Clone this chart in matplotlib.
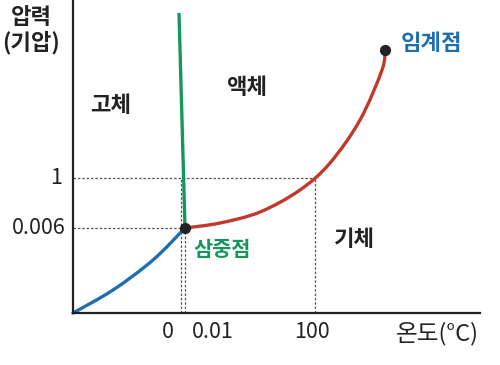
import matplotlib
matplotlib.use("Agg")
import matplotlib.pyplot as plt
from matplotlib.path import Path
from matplotlib.patches import PathPatch

plt.rcParams['font.family'] = ['Noto Sans CJK KR', 'DejaVu Sans']

# Schematic phase diagram of water (diagram units, origin at axes corner)
sub_x = [0, 40, 80, 112]                                # sublimation curve
sub_y = [0, 23, 53, 85]
vap_x = [112, 147, 187, 227, 257, 287, 309, 312]        # vaporization curve
vap_y = [85, 90, 101, 123, 150, 193, 243, 263]
melt_x = [112, 106]                                     # melting line
melt_y = [85, 300]

triple = (112, 85)
critical = (312, 263)

x_ticks = [108, 112, 242]
x_tick_labels = ['0', '0.01', '100']
y_ticks = [135, 85]
y_tick_labels = ['1', '0.006']

BLUE = '#1f6fae'
RED = '#c0392b'
GREEN = '#16975a'
GRAY = '#555555'


def smooth_path(xs, ys):
    # Catmull-Rom through the points, drawn as cubic Bezier segments
    pts = list(zip(xs, ys))
    verts = [pts[0]]
    codes = [Path.MOVETO]
    for i in range(len(pts) - 1):
        p0 = pts[i - 1] if i > 0 else pts[i]
        p1, p2 = pts[i], pts[i + 1]
        p3 = pts[i + 2] if i + 2 < len(pts) else pts[i + 1]
        c1 = (p1[0] + (p2[0] - p0[0]) / 6, p1[1] + (p2[1] - p0[1]) / 6)
        c2 = (p2[0] - (p3[0] - p1[0]) / 6, p2[1] - (p3[1] - p1[1]) / 6)
        verts += [c1, c2, p2]
        codes += [Path.CURVE4] * 3
    return Path(verts, codes)


fig = plt.figure(figsize=(5, 3.65), dpi=100)
ax = fig.add_axes([73 / 500, 52 / 365, 407 / 500, 313 / 365])
ax.set_xlim(0, 407)
ax.set_ylim(0, 313)
ax.set_xticks([])
ax.set_yticks([])
for s in ['top', 'right']:
    ax.spines[s].set_visible(False)
for s in ['left', 'bottom']:
    ax.spines[s].set_linewidth(1.6)
    ax.spines[s].set_color('#222222')

# dashed guide lines
dash = dict(color=GRAY, lw=0.9, ls=(0, (2, 1.5)), zorder=1)
ax.plot([0, x_ticks[2]], [y_ticks[0], y_ticks[0]], **dash)
ax.plot([x_ticks[2], x_ticks[2]], [0, y_ticks[0]], **dash)
ax.plot([0, triple[0]], [y_ticks[1], y_ticks[1]], **dash)
ax.plot([x_ticks[0], x_ticks[0]], [0, y_ticks[0]], **dash)
ax.plot([x_ticks[1], x_ticks[1]], [0, y_ticks[1]], **dash)

# phase boundaries
ax.add_patch(PathPatch(smooth_path(sub_x, sub_y), fill=False, edgecolor=BLUE,
                       lw=2.4, capstyle='round', zorder=2, clip_on=False))
ax.add_patch(PathPatch(smooth_path(vap_x, vap_y), fill=False, edgecolor=RED,
                       lw=2.4, capstyle='round', zorder=2, clip_on=False))
ax.plot(melt_x, melt_y, color=GREEN, lw=2.4, solid_capstyle='butt', zorder=2)
ax.scatter(*triple, s=50, color='#222222', zorder=3)
ax.scatter(*critical, s=50, color='#222222', zorder=3)

for ln in ax.lines:
    ln.set_clip_on(False)

# tick labels (placed by hand as in the original)
tick_kw = dict(fontsize=15.5, color='#222222', clip_on=False)
ax.text(x_ticks[0] - 13, -8, x_tick_labels[0], ha='center', va='top', **tick_kw)
ax.text(x_ticks[1] + 28, -8, x_tick_labels[1], ha='center', va='top', **tick_kw)
ax.text(x_ticks[2] - 3, -8, x_tick_labels[2], ha='center', va='top', **tick_kw)
ax.text(-11, y_ticks[0], y_tick_labels[0], ha='right', va='center', **tick_kw)
ax.text(-7, y_ticks[1], y_tick_labels[1], ha='right', va='center', **tick_kw)

# axis titles
fig.text(31 / 500, 1 - 30 / 365, '압력\n(기압)', ha='center', va='center',
         fontsize=16, fontweight='bold', color='#222222', linespacing=1.1)
fig.text(437 / 500, 1 - 334 / 365, '온도(°C)', ha='center', va='center',
         fontsize=17, color='#222222')

# region labels
lab_kw = dict(fontsize=16, fontweight='bold', color='#222222', ha='center', va='center')
ax.text(38, 208, '고체', **lab_kw)
ax.text(174, 225, '액체', **lab_kw)
ax.text(281, 73, '기체', **lab_kw)
ax.text(149, 63, '삼중점', fontsize=15, fontweight='bold', color=GREEN,
        ha='center', va='center')
ax.text(359, 270, '임계점', fontsize=16, fontweight='bold', color=BLUE,
        ha='center', va='center')

fig.savefig('out.png', dpi=100, facecolor='white')
